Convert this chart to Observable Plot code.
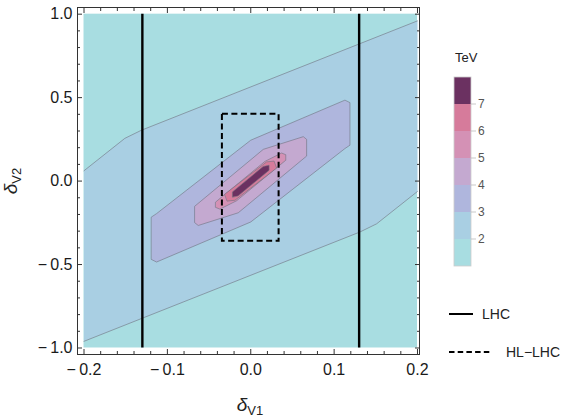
<!DOCTYPE html>
<html><head><meta charset="utf-8">
<script src="https://cdn.jsdelivr.net/npm/d3@7"></script>
<script src="https://cdn.jsdelivr.net/npm/@observablehq/plot@0.6"></script>
<style>
body{margin:0;background:#fff;font-family:"Liberation Sans",Arial,sans-serif;}
#wrap{position:relative;width:575px;height:419px;}
#wrap svg{position:absolute;left:0;top:0;}
</style></head><body><div id="wrap"></div>
<script>
// ---- data ----
const xDomain = [-0.2, 0.2];
const yDomain = [-1, 1];
const xTicks = [-0.2, -0.1, 0, 0.1, 0.2];
const xTickLabels = ["\u2212\u20090.2", "\u2212\u20090.1", "0.0", "0.1", "0.2"];
const yTicks = [-1, -0.5, 0, 0.5, 1];
const yTickLabels = ["\u2212\u20091.0", "\u2212\u20090.5", "0.0", "0.5", "1.0"];
const xMinorTicks = [-0.18,-0.16,-0.14,-0.12,-0.08,-0.06,-0.04,-0.02,0.02,0.04,0.06,0.08,0.12,0.14,0.16,0.18];
const yMinorTicks = [-0.9,-0.8,-0.7,-0.6,-0.4,-0.3,-0.2,-0.1,0.1,0.2,0.3,0.4,0.6,0.7,0.8,0.9];

const levelLabels = ["2", "3", "4", "5", "6", "7"];            // colour-bar boundaries
const levelColors = ["#a8dde1", "#a9cfe3", "#afb6dd", "#c4a9d0", "#d491b5", "#d67b9b", "#6b3161"]; // bands 1-2 ... 7+

// contour boundaries (data coordinates)
const c2Upper = [[-0.2, 0.062], [-0.151, 0.256], [-0.131, 0.305], [0.2, 0.96]];
const c2Lower = [[0.2, -0.062], [0.151, -0.256], [0.131, -0.305], [-0.2, -0.96]];
const c3 = [[-0.119,-0.215],[-0.113,-0.195],[0,0.245],[0.113,0.485],[0.119,0.47],[0.119,0.215],[0.113,0.195],[0,-0.245],[-0.113,-0.485],[-0.119,-0.47]];
const c4 = [[-0.067,-0.15],[0.015,0.19],[0.063,0.266],[0.067,0.25],[0.067,0.15],[-0.015,-0.19],[-0.063,-0.266],[-0.067,-0.25]];
const c5 = [[-0.042,-0.125],[0.017,0.118],[0.037,0.168],[0.042,0.158],[0.042,0.125],[-0.017,-0.118],[-0.037,-0.168],[-0.042,-0.158]];
const c6 = [[-0.031,-0.078],[0.019,0.115],[0.028,0.12],[0.031,0.078],[-0.019,-0.115],[-0.028,-0.12]];
const c7 = [[-0.022,-0.095],[-0.022,-0.065],[0.015,0.088],[0.022,0.095],[0.022,0.065],[-0.015,-0.088]];

const lhcX = [-0.13, 0.13];
const hlBox = [{x1: -0.034, x2: 0.034, y1: -0.36, y2: 0.40}];
const legendItems = ["LHC", "HL\u2212LHC"];

// ---- chart ----
const toPts = pts => pts.map(([x, y]) => ({x, y}));
const padX = 0.0078, padXr = 0.0024, padY = 0.039, padYt = 0.040;
const lineStroke = "#6f7280";

const contourMarks = [c3, c4, c5, c6, c7].map((c, i) =>
  Plot.line(toPts(c), {x: "x", y: "y", fill: levelColors[i + 2], stroke: lineStroke, strokeOpacity: 0.75, strokeWidth: 0.8, curve: "linear-closed"})
);

const fmtX = d => xTickLabels[xTicks.indexOf(d)];
const fmtY = d => yTickLabels[yTicks.indexOf(d)];

const chart = Plot.plot({
  width: 575, height: 419,
  marginLeft: 77, marginRight: 156, marginTop: 7, marginBottom: 65,
  x: {domain: [xDomain[0] - padX, xDomain[1] + padXr]},
  y: {domain: [yDomain[0] - padY, yDomain[1] + padYt]},
  style: {fontFamily: "'Liberation Sans', Arial, sans-serif", fontSize: "16px", color: "#222", background: "transparent"},
  marks: [
    Plot.rect([{x1: xDomain[0], x2: xDomain[1], y1: yDomain[0], y2: yDomain[1]}], {x1: "x1", x2: "x2", y1: "y1", y2: "y2", fill: levelColors[0]}),
    Plot.line(toPts([...c2Upper, ...c2Lower]), {x: "x", y: "y", fill: levelColors[1], stroke: "none", curve: "linear-closed"}),
    Plot.line(toPts(c2Upper), {x: "x", y: "y", stroke: lineStroke, strokeOpacity: 0.75, strokeWidth: 0.8}),
    Plot.line(toPts(c2Lower), {x: "x", y: "y", stroke: lineStroke, strokeOpacity: 0.75, strokeWidth: 0.8}),
    ...contourMarks,
    Plot.ruleX(lhcX, {x: d => d, y1: yDomain[0], y2: yDomain[1], stroke: "#000", strokeWidth: 2.4}),
    Plot.rect(hlBox, {x1: "x1", x2: "x2", y1: "y1", y2: "y2", fill: "none", stroke: "#000", strokeWidth: 2, strokeDasharray: "6,3.5"}),
    Plot.frame({stroke: "#333"}),
    // ticks inward on all sides
    Plot.axisX(xTicks, {anchor: "bottom", tickSize: -5, tickFormat: () => "", label: null, stroke: "#333"}),
    Plot.axisX(xTicks, {anchor: "top", tickSize: -5, tickFormat: () => "", label: null, stroke: "#333"}),
    Plot.axisX(xMinorTicks, {anchor: "bottom", tickSize: -3, tickFormat: () => "", label: null, stroke: "#333"}),
    Plot.axisX(xMinorTicks, {anchor: "top", tickSize: -3, tickFormat: () => "", label: null, stroke: "#333"}),
    Plot.axisY(yTicks, {anchor: "left", tickSize: -5, tickFormat: () => "", label: null, stroke: "#333"}),
    Plot.axisY(yTicks, {anchor: "right", tickSize: -5, tickFormat: () => "", label: null, stroke: "#333"}),
    Plot.axisY(yMinorTicks, {anchor: "left", tickSize: -3, tickFormat: () => "", label: null, stroke: "#333"}),
    Plot.axisY(yMinorTicks, {anchor: "right", tickSize: -3, tickFormat: () => "", label: null, stroke: "#333"}),
    // labels
    Plot.axisX(xTicks, {anchor: "bottom", tickSize: 0, tickPadding: 9, tickFormat: fmtX, label: null}),
    Plot.axisY(yTicks, {anchor: "left", tickSize: 0, tickPadding: 5, tickFormat: fmtY, label: null})
  ]
});
document.getElementById("wrap").appendChild(chart);

const cs = d3.select(chart);
// enlarge tick labels to match the reference
cs.selectAll("g").filter(function () { return (this.getAttribute("aria-label") || "").includes("tick label"); })
  .attr("font-size", null).style("font-size", "16px");
cs.selectAll("text").style("font-size", "16px").style("fill", "#1a1a1a");

// axis titles
const xt = cs.append("text").attr("x", 250).attr("y", 411).attr("text-anchor", "middle")
  .style("font-family", "'Liberation Sans', Arial, sans-serif").attr("fill", "#222");
xt.append("tspan").text("\u03b4").style("font-style", "italic").style("font-size", "19px");
xt.append("tspan").text("V1").style("font-size", "13px").attr("dy", 4);
const yt = cs.append("text").attr("transform", "translate(17,181) rotate(-90)").attr("text-anchor", "middle")
  .style("font-family", "'Liberation Sans', Arial, sans-serif").attr("fill", "#222");
yt.append("tspan").text("\u03b4").style("font-style", "italic").style("font-size", "19px");
yt.append("tspan").text("V2").style("font-size", "13px").attr("dy", 4);

// ---- legends ----
const leg = d3.select("#wrap").append("svg").attr("width", 575).attr("height", 419)
  .style("font-family", "'Liberation Sans', Arial, sans-serif");
const barX = 454, barW = 17, barTop = 77, bandH = 27;
leg.append("text").attr("x", 455).attr("y", 62).text("TeV").style("font-size", "13px").attr("fill", "#222");
const bandsTopDown = levelColors.slice().reverse();
bandsTopDown.forEach((c, i) => {
  leg.append("rect").attr("x", barX).attr("y", barTop + i * bandH).attr("width", barW).attr("height", bandH).attr("fill", c);
});
leg.append("rect").attr("x", barX).attr("y", barTop).attr("width", barW).attr("height", bandH * levelColors.length)
  .attr("fill", "none").attr("stroke", "#ccc").attr("stroke-width", 0.8);
levelLabels.slice().reverse().forEach((t, i) => {
  const y = barTop + (i + 1) * bandH;
  leg.append("line").attr("x1", barX + barW).attr("x2", barX + barW + 5).attr("y1", y).attr("y2", y).attr("stroke", "#bbb").attr("stroke-width", 0.8);
  leg.append("text").attr("x", 478).attr("y", y).attr("dy", "0.35em").text(t).style("font-size", "12px").attr("fill", "#555");
});
// LHC / HL-LHC
leg.append("line").attr("x1", 449).attr("x2", 473).attr("y1", 314).attr("y2", 314).attr("stroke", "#000").attr("stroke-width", 2);
leg.append("text").attr("x", 482).attr("y", 314).attr("dy", "0.35em").text(legendItems[0]).style("font-size", "14px").attr("fill", "#222");
leg.append("line").attr("x1", 449).attr("x2", 492).attr("y1", 352).attr("y2", 352).attr("stroke", "#000").attr("stroke-width", 2).attr("stroke-dasharray", "5.5,3.2");
leg.append("text").attr("x", 506).attr("y", 352).attr("dy", "0.35em").text(legendItems[1]).style("font-size", "14px").attr("fill", "#222");
</script></body></html>
